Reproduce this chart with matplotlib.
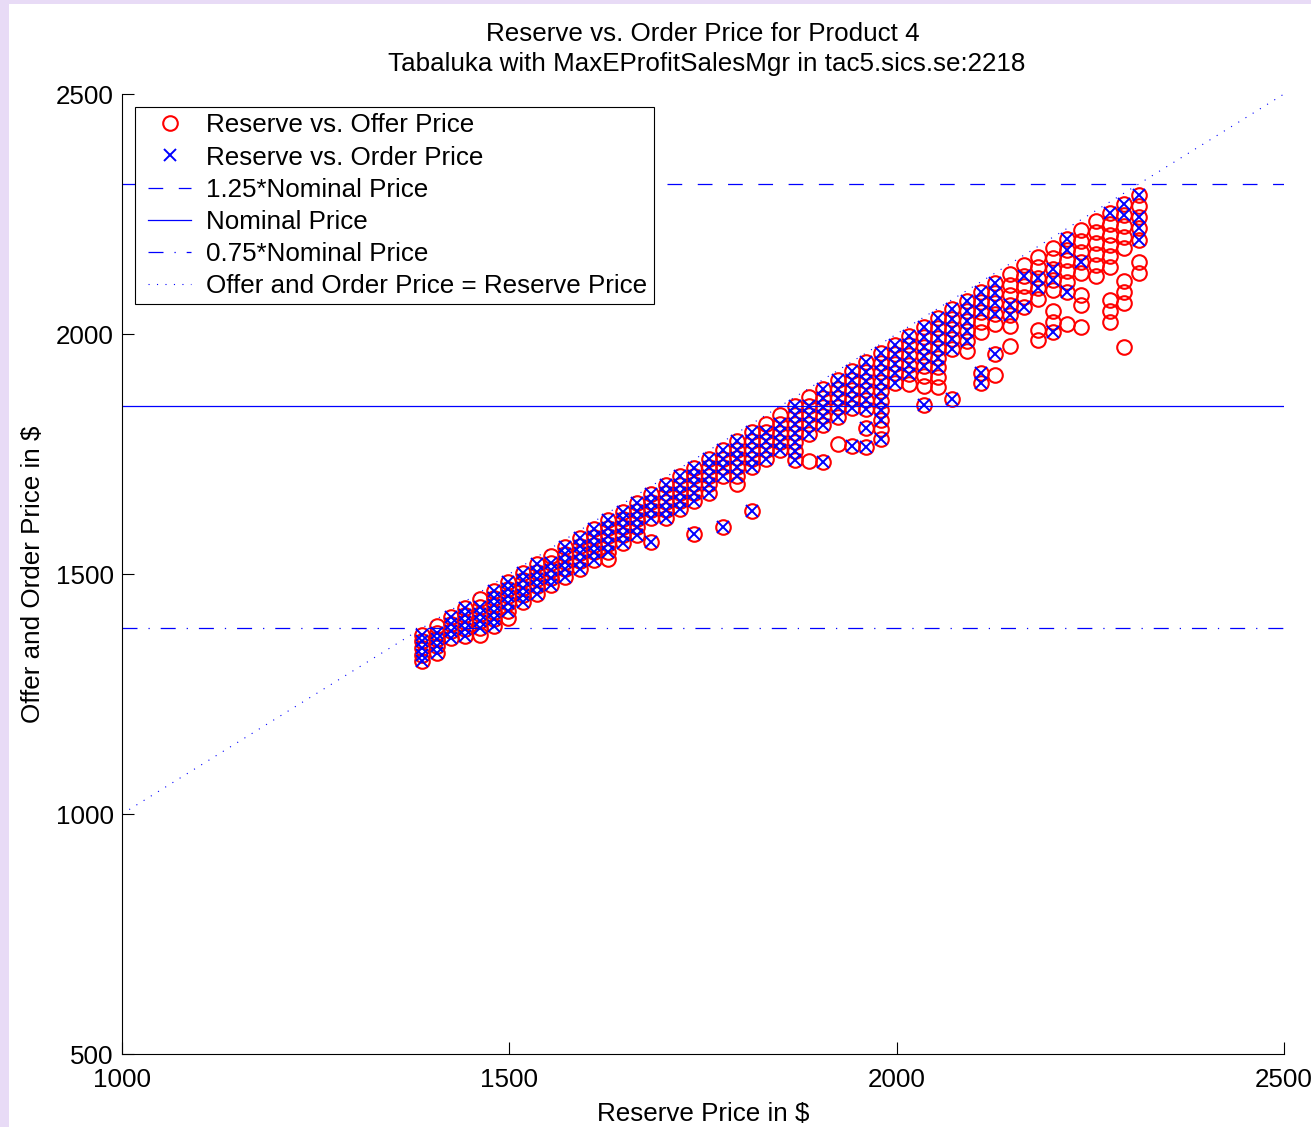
import matplotlib
matplotlib.use("Agg")
import matplotlib.pyplot as plt
from matplotlib.lines import Line2D
from matplotlib.legend_handler import HandlerLine2D
from matplotlib.patches import Rectangle

plt.rcParams['font.family'] = ['Liberation Sans', 'DejaVu Sans']
plt.rcParams['lines.scale_dashes'] = False

FS = 18.7

nominal = 1850

# reserve price of each column ($)
reserve = [1387.5, 1406.0, 1424.5, 1443.0, 1461.5, 1480.0, 1498.5, 1517.0, 1535.5,
           1554.0, 1572.5, 1591.0, 1609.5, 1628.0, 1646.5, 1665.0, 1683.5, 1702.0,
           1720.5, 1739.0, 1757.5, 1776.0, 1794.5, 1813.0, 1831.5, 1850.0, 1868.5,
           1887.0, 1905.5, 1924.0, 1942.5, 1961.0, 1979.5, 1998.0, 2016.5, 2035.0,
           2053.5, 2072.0, 2090.5, 2109.0, 2127.5, 2146.0, 2164.5, 2183.0, 2201.5,
           2220.0, 2238.5, 2257.0, 2275.5, 2294.0, 2312.5]

# offer prices in each column, as % of the reserve price
offer_pct = [
    [99, 98, 97, 96, 95], [99, 98, 97, 96, 95], [99, 98, 97, 96],
    [99, 98, 97, 96, 95], [99, 98, 97, 96, 95, 94], [99, 98, 97, 96, 95, 94],
    [99, 98, 97, 96, 95, 94], [99, 98, 97, 96, 95], [99, 98, 97, 96, 95],
    [99, 98, 97, 96, 95], [99, 98, 97, 96, 95], [99, 98, 97, 96, 95],
    [99, 98, 97, 96, 95], [99, 98, 97, 96, 95, 94], [99, 98, 97, 96, 95],
    [99, 98, 97, 96, 95], [99, 98, 97, 96, 93], [99, 98, 97, 96, 95],
    [99, 98, 97, 96, 95], [99, 98, 97, 96, 95, 91], [99, 98, 97, 96, 95],
    [99, 98, 97, 96, 90], [99, 98, 97, 96, 95, 94], [99, 98, 97, 96, 95, 90],
    [99, 98, 97, 96, 95], [99, 98, 97, 96, 95], [99, 98, 97, 96, 95, 94, 93],
    [99, 98, 97, 96, 95, 92], [99, 98, 97, 96, 95, 91], [99, 98, 97, 96, 95, 92],
    [99, 98, 97, 96, 95, 91], [99, 98, 97, 96, 95, 94, 92, 90],
    [99, 98, 97, 96, 95, 94, 93, 92, 91, 90], [99, 98, 97, 96, 95],
    [99, 98, 97, 96, 95, 94], [99, 98, 97, 96, 95, 94, 93, 91],
    [99, 98, 97, 96, 95, 94, 93, 92], [99, 98, 97, 96, 95, 90],
    [99, 98, 97, 96, 95, 94], [99, 98, 97, 96, 95, 91, 90],
    [99, 98, 97, 96, 95, 92, 90], [99, 98, 97, 96, 95, 94, 92],
    [99, 98, 97, 96, 95], [99, 98, 97, 96, 95, 92, 91],
    [99, 98, 97, 96, 95, 93, 92, 91], [99, 98, 97, 96, 95, 94, 91],
    [99, 98, 97, 96, 95, 93, 92, 90], [99, 98, 97, 96, 95, 94],
    [99, 98, 97, 96, 95, 94, 91, 90, 89], [99, 98, 97, 96, 95, 92, 91, 90, 86],
    [99, 98, 97, 96, 95, 93, 92],
]

# offers that became orders, as % of the reserve price
order_pct = [
    [99, 98, 97, 96, 95], [98, 97, 96, 95], [99, 98, 97, 96],
    [99, 98, 97, 96, 95], [98, 97, 96, 95], [99, 98, 97, 96, 95, 94],
    [99, 98, 97, 96, 95], [99, 98, 97, 96, 95], [99, 98, 97, 96, 95],
    [98, 97, 96, 95], [99, 98, 97, 96, 95], [99, 98, 97, 96, 95],
    [99, 98, 97, 96, 95], [99, 98, 97, 96, 95], [99, 98, 97, 96, 95],
    [99, 98, 97, 96, 95], [99, 98, 97, 96, 93], [99, 98, 97, 96, 95],
    [99, 98, 97, 96, 95], [99, 98, 97, 96, 95, 91], [99, 98, 97, 96, 95],
    [99, 98, 97, 96, 90], [99, 98, 97, 96, 95], [99, 98, 97, 96, 95, 90],
    [98, 97, 96, 95], [98, 97, 96, 95], [99, 98, 97, 96, 95, 94, 93],
    [98, 97, 96, 95], [99, 98, 97, 96, 95, 91], [99, 98, 97, 96, 95],
    [99, 98, 97, 96, 95, 91], [99, 98, 97, 96, 95, 94, 92, 90],
    [99, 98, 97, 96, 95, 94, 93, 92, 90], [99, 98, 97, 96, 95],
    [99, 98, 97, 96, 95], [99, 98, 97, 96, 95, 91],
    [99, 98, 97, 96, 95, 94], [99, 98, 97, 96, 95, 90],
    [99, 98, 97, 96, 95], [99, 98, 97, 91, 90],
    [99, 98, 97, 96, 92], [96, 95],
    [98, 95], [97, 96],
    [97, 96, 91], [99, 98, 94],
    [96], [],
    [99], [99, 98],
    [99, 97, 96, 95],
]

title_lines = ["Reserve vs. Order Price for Product 4",
               "Tabaluka with MaxEProfitSalesMgr in tac5.sics.se:2218"]

offer_x, offer_y, order_x, order_y = [], [], [], []
for r, offs, ords in zip(reserve, offer_pct, order_pct):
    for p in offs:
        offer_x.append(r)
        offer_y.append(r * p / 100)
    for p in ords:
        order_x.append(r)
        order_y.append(r * p / 100)

fig = plt.figure(figsize=(13.11, 11.27), dpi=100)
fig.patch.set_facecolor('#e8dbf6')
fig.patches.append(Rectangle((9 / 1311, 0), 1, 1 - 4 / 1127, transform=fig.transFigure,
                             facecolor='white', edgecolor='none', zorder=-1))

ax = fig.add_axes([122 / 1311, 73 / 1127, 1162 / 1311, 960 / 1127])

h_off, = ax.plot(offer_x, offer_y, 'o', mfc='none', mec='red', ms=10.5, mew=1.5,
                 label='Reserve vs. Offer Price')
h_ord, = ax.plot(order_x, order_y, 'x', color='blue', ms=8.5, mew=1.4,
                 label='Reserve vs. Order Price')

xlim = [1000, 2500]
h_hi, = ax.plot(xlim, [1.25 * nominal] * 2, color='blue', lw=0.9,
                linestyle=(0, (10.6, 11.2)), label='1.25*Nominal Price')
h_nom, = ax.plot(xlim, [nominal] * 2, color='blue', lw=0.9, label='Nominal Price')
h_lo, = ax.plot(xlim, [0.75 * nominal] * 2, color='blue', lw=0.9,
                linestyle=(0, (10.8, 7.9, 0.9, 7.9)), label='0.75*Nominal Price')
h_eq, = ax.plot(xlim, xlim, color='blue', lw=0.8, linestyle=(0, (0.8, 5.3)),
                label='Offer and Order Price = Reserve Price')

ax.set_xlim(1000, 2500)
ax.set_ylim(500, 2500)
ax.set_xticks([1000, 1500, 2000, 2500])
ax.set_yticks([500, 1000, 1500, 2000, 2500])
ax.spines['top'].set_visible(False)
ax.spines['right'].set_visible(False)
for s in ('left', 'bottom'):
    ax.spines[s].set_linewidth(0.8)
ax.tick_params(direction='in', length=8.4, width=0.8, labelsize=FS)
ax.tick_params(axis='x', pad=10)
ax.tick_params(axis='y', pad=6)

ax.set_xlabel('Reserve Price in $', fontsize=FS)
ax.set_ylabel('Offer and Order Price in $', fontsize=FS)
ax.xaxis.set_label_coords(0.5, -0.0497)
ax.yaxis.set_label_coords(-0.066, 0.5)

ax.text(0.5, 1 + 53 / 960, title_lines[0], transform=ax.transAxes, ha='center',
        va='baseline', fontsize=FS)
ax.text(0.503, 1 + 23 / 960, title_lines[1], transform=ax.transAxes, ha='center',
        va='baseline', fontsize=FS)

leg = ax.legend(handles=[h_off, h_ord, h_hi, h_nom, h_lo, h_eq], loc='upper left',
                bbox_to_anchor=(13 / 1162, 1 - 13 / 960), borderaxespad=0,
                fontsize=FS, fancybox=False, framealpha=1, edgecolor='black',
                borderpad=0.25, labelspacing=0.31, handlelength=1.9,
                handletextpad=0.6, numpoints=1,
                handler_map={Line2D: HandlerLine2D(xpad=0.26)})
leg.get_frame().set_linewidth(0.8)

fig.savefig('out.png', dpi=100)
